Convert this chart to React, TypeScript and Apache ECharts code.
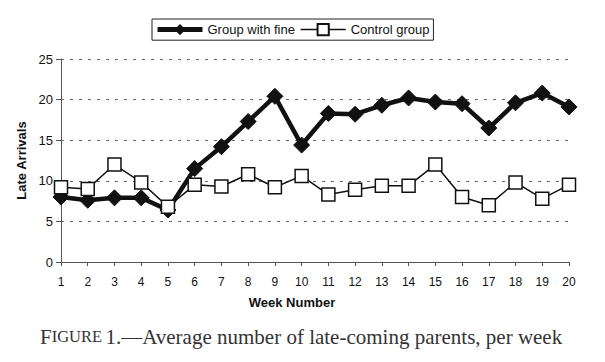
import React, { useEffect, useRef } from "react";
import * as echarts from "echarts";

const weeks = ["1","2","3","4","5","6","7","8","9","10","11","12","13","14","15","16","17","18","19","20"];
const fineGroup = [8.0, 7.6, 7.9, 7.9, 6.4, 11.5, 14.2, 17.3, 20.4, 14.4, 18.3, 18.2, 19.3, 20.2, 19.7, 19.5, 16.5, 19.6, 20.8, 19.1];
const controlGroup = [9.2, 9.0, 12.0, 9.8, 6.8, 9.5, 9.3, 10.8, 9.2, 10.6, 8.3, 8.9, 9.4, 9.4, 12.0, 8.0, 7.0, 9.8, 7.8, 9.5];
const yTicks = [0, 5, 10, 15, 20, 25];

export default function App() {
  const ref = useRef<HTMLDivElement>(null);
  useEffect(() => {
    if (!ref.current) return;
    const chart = echarts.init(ref.current, null, { renderer: "svg" });
    const font = "Liberation Sans, Arial, sans-serif";
    chart.setOption({
      animation: false,
      backgroundColor: "#ffffff",
      grid: { left: 61, right: 36, top: 59, bottom: 100, containLabel: false },
      legend: {
        top: 19,
        left: 152,
        padding: [4, 4, 4, 3],
        borderColor: "#222",
        borderWidth: 1,
        itemWidth: 45,
        itemHeight: 14,
        itemGap: 5,
        textStyle: { fontFamily: font, fontSize: 13, color: "#111" },
        data: [
          { name: "Group with fine", lineStyle: { width: 5, color: "#111" } },
          { name: "Control group", lineStyle: { width: 1.5, color: "#111" } },
        ],
      },
      xAxis: {
        type: "category",
        data: weeks,
        boundaryGap: false,
        name: "Week Number",
        nameLocation: "middle",
        nameGap: 34,
        nameTextStyle: { fontFamily: font, fontSize: 13, fontWeight: "bold", color: "#111", padding: [0, 46, 0, 0] },
        axisLine: { lineStyle: { color: "#555", width: 1 } },
        axisTick: { show: true, length: 4, inside: false, lineStyle: { color: "#555" } },
        axisLabel: { fontFamily: font, fontSize: 12, color: "#111", margin: 14 },
        splitLine: { show: false },
      },
      yAxis: {
        type: "value",
        min: 0,
        max: 25,
        interval: 5,
        name: "Late Arrivals",
        nameLocation: "middle",
        nameGap: 26,
        nameTextStyle: { fontFamily: font, fontSize: 13, fontWeight: "bold", color: "#111" },
        axisLine: { show: true, lineStyle: { color: "#555", width: 1 } },
        axisTick: { show: true, length: 5, lineStyle: { color: "#555" } },
        axisLabel: {
          fontFamily: font,
          fontSize: 13,
          color: "#111",
          margin: 8,
          formatter: (v: number) => (yTicks.includes(v) ? String(v) : ""),
        },
        splitLine: { show: true, lineStyle: { color: "#666", type: [3, 6], width: 1 } },
      },
      series: [
        {
          name: "Group with fine",
          type: "line",
          data: fineGroup,
          symbol: "diamond",
          symbolSize: 16,
          lineStyle: { color: "#111", width: 4.5 },
          itemStyle: { color: "#111", borderColor: "#111" },
          z: 3,
        },
        {
          name: "Control group",
          type: "line",
          data: controlGroup,
          symbol: "rect",
          symbolSize: 13,
          lineStyle: { color: "#111", width: 1.5 },
          itemStyle: { color: "#ffffff", borderColor: "#111", borderWidth: 1.5 },
          z: 4,
        },
      ],
      graphic: [
        {
          type: "text",
          left: 40,
          top: 326,
          style: {
            text: "{a|F}{b|IGURE} {a|1.—Average number of late-coming parents, per week}",
            rich: {
              a: { fontFamily: "Liberation Serif, Times New Roman, serif", fontSize: 21, fill: "#333" },
              b: { fontFamily: "Liberation Serif, Times New Roman, serif", fontSize: 16.5, fill: "#333" },
            },
          },
        },
      ],
    });
    return () => chart.dispose();
  }, []);
  return (
    <div
      ref={ref}
      style={{ position: "fixed", left: 0, top: 0, width: 605, height: 362, background: "#fff" }}
    />
  );
}
